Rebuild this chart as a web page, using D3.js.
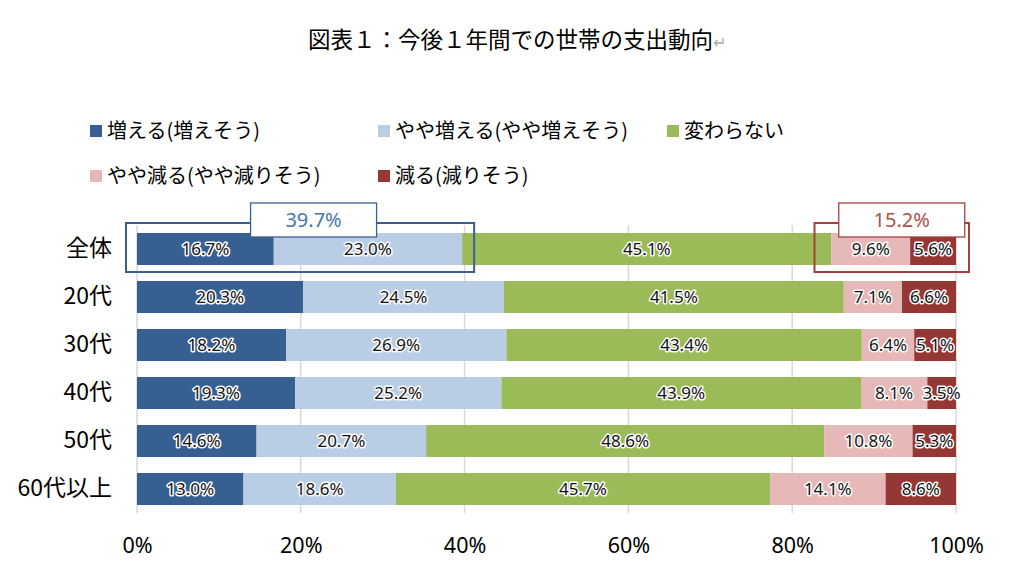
<!DOCTYPE html>
<html>
<head>
<meta charset="utf-8">
<script src="https://cdn.jsdelivr.net/npm/d3@7"></script>
<style>
  body { margin: 0; background: #fff; }
  text { font-family: "Noto Sans CJK JP", "Noto Sans", sans-serif; }
  .num { font-family: "Noto Sans", "Open Sans", sans-serif; }
</style>
</head>
<body>
<div id="chart"></div>
<script>
// Chart data
const categories = ["全体", "20代", "30代", "40代", "50代", "60代以上"];
const seriesNames = ["増える(増えそう)", "やや増える(やや増えそう)", "変わらない", "やや減る(やや減りそう)", "減る(減りそう)"];
const seriesColors = ["#376092", "#b9cde5", "#9bbb59", "#e6b9b8", "#953735"];
const increase = [16.7, 20.3, 18.2, 19.3, 14.6, 13.0];
const slightIncrease = [23.0, 24.5, 26.9, 25.2, 20.7, 18.6];
const noChange = [45.1, 41.5, 43.4, 43.9, 48.6, 45.7];
const slightDecrease = [9.6, 7.1, 6.4, 8.1, 10.8, 14.1];
const decrease = [5.6, 6.6, 5.1, 3.5, 5.3, 8.6];
const ticks = [0, 20, 40, 60, 80, 100];
const calloutUp = "39.7%";
const calloutDown = "15.2%";

const svgWidth = 1024;
const svgHeight = 576;
const margin = { top: 225, right: 68, bottom: 63, left: 137 };
const width = svgWidth - margin.left - margin.right;
const height = svgHeight - margin.top - margin.bottom;

const svg = d3.select("#chart")
    .append("svg")
    .attr("width", svgWidth)
    .attr("height", svgHeight);

// Title
svg.append("text")
    .attr("x", 308)
    .attr("y", 48)
    .attr("font-size", 22.5)
    .attr("fill", "#000")
    .text("図表１：今後１年間での世帯の支出動向")
    .append("tspan")
    .attr("fill", "#aaa")
    .attr("font-size", 16)
    .text("↵");

// Legend
const legendPos = [[90, 131], [378, 131], [667, 131], [90, 176], [378, 176]];
const legend = svg.append("g");
seriesNames.forEach((name, i) => {
    const [lx, ly] = legendPos[i];
    legend.append("rect")
        .attr("x", lx)
        .attr("y", ly - 6)
        .attr("width", 12)
        .attr("height", 12)
        .attr("fill", seriesColors[i]);
    legend.append("text")
        .attr("x", lx + 17)
        .attr("y", ly)
        .attr("dy", "0.36em")
        .attr("font-size", 20)
        .text(name);
});

const chart = svg.append("g")
    .attr("transform", `translate(${margin.left},${margin.top})`);

// Scales
const x = d3.scaleLinear().domain([0, 100]).range([0, width]);
const y = d3.scaleBand()
    .domain(categories)
    .range([0, height])
    .paddingInner(1 / 3)
    .paddingOuter(1 / 6);

// Gridlines
chart.append("g")
    .selectAll("line")
    .data(ticks)
    .enter()
    .append("line")
    .attr("x1", d => x(d))
    .attr("x2", d => x(d))
    .attr("y1", 0)
    .attr("y2", height)
    .attr("stroke", "#d9d9d9")
    .attr("stroke-width", 1.5);

// Tick labels
const xAxis = chart.append("g")
    .attr("transform", `translate(0,${height})`)
    .call(d3.axisBottom(x).tickValues(ticks).tickSize(0).tickPadding(25).tickFormat(d => d + "%"));
xAxis.select(".domain").remove();
xAxis.selectAll("text")
    .attr("class", "num")
    .attr("font-size", 21.5)
    .attr("fill", "#000");

// Category labels
const yAxis = chart.append("g")
    .call(d3.axisLeft(y).tickSize(0).tickPadding(25));
yAxis.select(".domain").remove();
yAxis.selectAll("text")
    .attr("font-size", 23)
    .attr("fill", "#000");

// Stack data
const rows = categories.map((c, i) => ({
    cat: c,
    s0: increase[i], s1: slightIncrease[i], s2: noChange[i], s3: slightDecrease[i], s4: decrease[i]
}));
const keys = ["s0", "s1", "s2", "s3", "s4"];
const stacked = d3.stack().keys(keys)(rows);

const layers = chart.selectAll(".layer")
    .data(stacked)
    .enter()
    .append("g")
    .attr("class", "layer")
    .attr("fill", (d, i) => seriesColors[i]);

layers.selectAll("rect")
    .data(d => d)
    .enter()
    .append("rect")
    .attr("x", d => x(d[0]))
    .attr("y", d => y(d.data.cat))
    .attr("width", d => x(d[1]) - x(d[0]))
    .attr("height", y.bandwidth());

// Data labels with white halo
layers.selectAll("text")
    .data(d => d.map(v => ({ v, key: d.key })))
    .enter()
    .append("text")
    .attr("class", "num")
    .attr("x", d => (x(d.v[0]) + x(d.v[1])) / 2)
    .attr("y", d => y(d.v.data.cat) + y.bandwidth() / 2)
    .attr("dy", "0.36em")
    .attr("text-anchor", "middle")
    .attr("font-size", 17)
    .attr("fill", "#111")
    .attr("stroke", "#fff")
    .attr("stroke-width", 3)
    .attr("stroke-linejoin", "round")
    .attr("paint-order", "stroke")
    .text(d => d.v.data[d.key].toFixed(1) + "%");

// Callouts on 全体 row
const rowTop = y(categories[0]);
const bw = y.bandwidth();
const upEnd = increase[0] + slightIncrease[0];
const downStart = 100 - slightDecrease[0] - decrease[0];

function callout(x0, x1, labelCx, color, textColor, label) {
    chart.append("rect")
        .attr("x", x0)
        .attr("y", rowTop - 10)
        .attr("width", x1 - x0)
        .attr("height", bw + 17)
        .attr("fill", "none")
        .attr("stroke", color)
        .attr("stroke-width", 2);
    chart.append("rect")
        .attr("x", labelCx - 63)
        .attr("y", rowTop - 30)
        .attr("width", 126)
        .attr("height", 34)
        .attr("fill", "#fff")
        .attr("stroke", color)
        .attr("stroke-width", 1.3);
    chart.append("text")
        .attr("class", "num")
        .attr("x", labelCx)
        .attr("y", rowTop - 13)
        .attr("dy", "0.36em")
        .attr("text-anchor", "middle")
        .attr("font-size", 20)
        .attr("fill", textColor)
        .text(label);
}

callout(x(0) - 11, x(upEnd) + 12, (x(0) + x(upEnd)) / 2 + 14, "#3b5f90", "#4a74ac", calloutUp);
callout(x(downStart) - 17, x(100) + 13, (x(downStart) + x(100)) / 2 + 8, "#a5403e", "#b0504d", calloutDown);
</script>
</body>
</html>
